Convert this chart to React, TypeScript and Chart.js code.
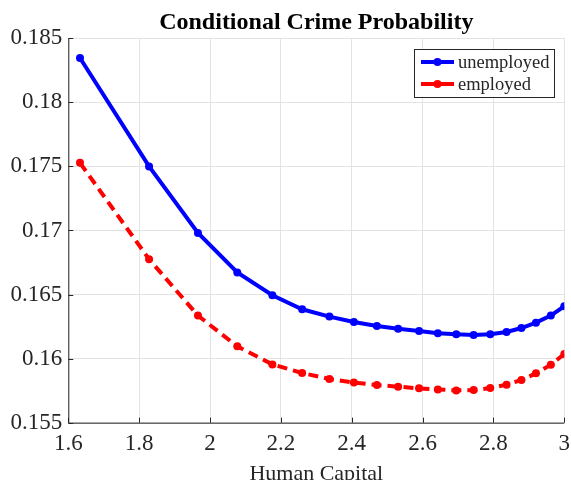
import React, { useEffect, useRef } from "react";
import { Chart, registerables } from "chart.js";

Chart.register(...registerables);

const humanCapital = [1.633, 1.828, 1.966, 2.077, 2.176, 2.26, 2.337, 2.406, 2.471, 2.531, 2.59, 2.643, 2.695, 2.744, 2.791, 2.837, 2.879, 2.92, 2.962, 3.0];
const unemployed = [0.18346, 0.175, 0.16981, 0.16672, 0.16495, 0.16385, 0.16328, 0.16286, 0.16255, 0.16234, 0.16216, 0.16198, 0.1619, 0.16185, 0.1619, 0.16208, 0.16239, 0.16281, 0.16336, 0.16409];
const employed = [0.17528, 0.16776, 0.16336, 0.16096, 0.15955, 0.15888, 0.15841, 0.15813, 0.15794, 0.15781, 0.15768, 0.1576, 0.15752, 0.15755, 0.1577, 0.15797, 0.15833, 0.15885, 0.15953, 0.16036];
const seriesNames = ["unemployed", "employed"];
const chartTitle = "Conditional Crime Probability";
const xLabel = "Human Capital";

const FONT = "'Liberation Serif', 'Times New Roman', serif";
const TXT = "#262626";

const decorPlugin = {
  id: "decor",
  afterDraw(chart: any) {
    const ctx = chart.ctx;
    const a = chart.chartArea;
    const xs = chart.scales.x;
    const ys = chart.scales.y;
    ctx.save();
    // axes lines
    ctx.strokeStyle = TXT;
    ctx.lineWidth = 1;
    ctx.beginPath();
    ctx.moveTo(a.left + 0.5, a.top);
    ctx.lineTo(a.left + 0.5, a.bottom + 0.5);
    ctx.lineTo(a.right, a.bottom + 0.5);
    ctx.stroke();
    // inward ticks
    ctx.beginPath();
    xs.ticks.forEach((t: any) => {
      const px = Math.round(xs.getPixelForValue(t.value)) + 0.5;
      ctx.moveTo(px, a.bottom);
      ctx.lineTo(px, a.bottom - 5);
    });
    ys.ticks.forEach((t: any) => {
      const py = Math.round(ys.getPixelForValue(t.value)) + 0.5;
      ctx.moveTo(a.left, py);
      ctx.lineTo(a.left + 5, py);
    });
    ctx.stroke();
    // title
    ctx.fillStyle = "#000";
    ctx.font = "bold 24px " + FONT;
    ctx.textAlign = "center";
    ctx.textBaseline = "alphabetic";
    ctx.fillText(chartTitle, (a.left + a.right) / 2, 29);
    // x label
    ctx.fillStyle = TXT;
    ctx.font = "22px " + FONT;
    ctx.fillText(xLabel, (a.left + a.right) / 2, 480);
    // legend
    const lx = 414, ly = 49, lw = 140, lh = 48;
    ctx.fillStyle = "#fff";
    ctx.fillRect(lx, ly, lw, lh);
    ctx.strokeStyle = TXT;
    ctx.lineWidth = 1;
    ctx.strokeRect(lx + 0.5, ly + 0.5, lw, lh);
    ctx.font = "18.5px " + FONT;
    ctx.textAlign = "left";
    ctx.textBaseline = "middle";
    const rows = [62, 84];
    chart.data.datasets.forEach((ds: any, i: number) => {
      const y = rows[i];
      ctx.strokeStyle = ds.borderColor;
      ctx.lineWidth = 4;
      ctx.setLineDash([]);
      ctx.beginPath();
      ctx.moveTo(421, y);
      ctx.lineTo(454, y);
      ctx.stroke();
      ctx.fillStyle = ds.borderColor;
      ctx.beginPath();
      ctx.arc(437.5, y, 4, 0, Math.PI * 2);
      ctx.fill();
      ctx.fillStyle = TXT;
      ctx.fillText(ds.label, 458, y + 1);
    });
    ctx.restore();
  },
};

function fmt(v: number) {
  return String(parseFloat(v.toFixed(4)));
}

export default function App() {
  const ref = useRef<HTMLCanvasElement>(null);
  useEffect(() => {
    const chart = new Chart(ref.current!, {
      type: "line",
      data: {
        datasets: [
          {
            label: seriesNames[0],
            data: humanCapital.map((x, i) => ({ x, y: unemployed[i] })),
            borderColor: "#0000ff",
            backgroundColor: "#0000ff",
            borderWidth: 4,
            pointRadius: 4,
            pointBorderWidth: 0,
            tension: 0,
          },
          {
            label: seriesNames[1],
            data: humanCapital.map((x, i) => ({ x, y: employed[i] })),
            borderColor: "#ff0000",
            backgroundColor: "#ff0000",
            borderWidth: 4,
            borderDash: [10, 6],
            pointRadius: 4,
            pointBorderWidth: 0,
            tension: 0,
          },
        ],
      },
      options: {
        animation: false,
        responsive: false,
        layout: { padding: { left: 0, right: 0, top: 38.3, bottom: 0 } },
        plugins: { legend: { display: false }, title: { display: false }, tooltip: { enabled: false } },
        scales: {
          x: {
            type: "linear",
            min: 1.6,
            max: 3,
            border: { display: false },
            grid: { color: "#e3e3e3", lineWidth: 1, drawTicks: false },
            ticks: {
              stepSize: 0.2,
              color: TXT,
              font: { family: FONT, size: 23 },
              padding: 7,
              maxRotation: 0,
              autoSkip: false,
              callback: (v: any) => fmt(Number(v)),
            },
            afterFit: (s: any) => { s.height = 57.3; s.paddingRight = 6.7; },
          },
          y: {
            type: "linear",
            min: 0.155,
            max: 0.185,
            border: { display: false },
            grid: { color: "#e3e3e3", lineWidth: 1, drawTicks: false },
            ticks: {
              stepSize: 0.005,
              color: TXT,
              font: { family: FONT, size: 23 },
              padding: 6,
              autoSkip: false,
              callback: (v: any) => fmt(Number(v)),
            },
            afterFit: (s: any) => { s.width = 68.3; },
          },
        },
      },
      plugins: [decorPlugin],
    });
    return () => chart.destroy();
  }, []);
  return (
    <div style={{ position: "fixed", left: 0, top: 0, width: 571, height: 480, background: "#fff" }}>
      <canvas ref={ref} width={571} height={480} style={{ width: 571, height: 480 }} />
    </div>
  );
}
